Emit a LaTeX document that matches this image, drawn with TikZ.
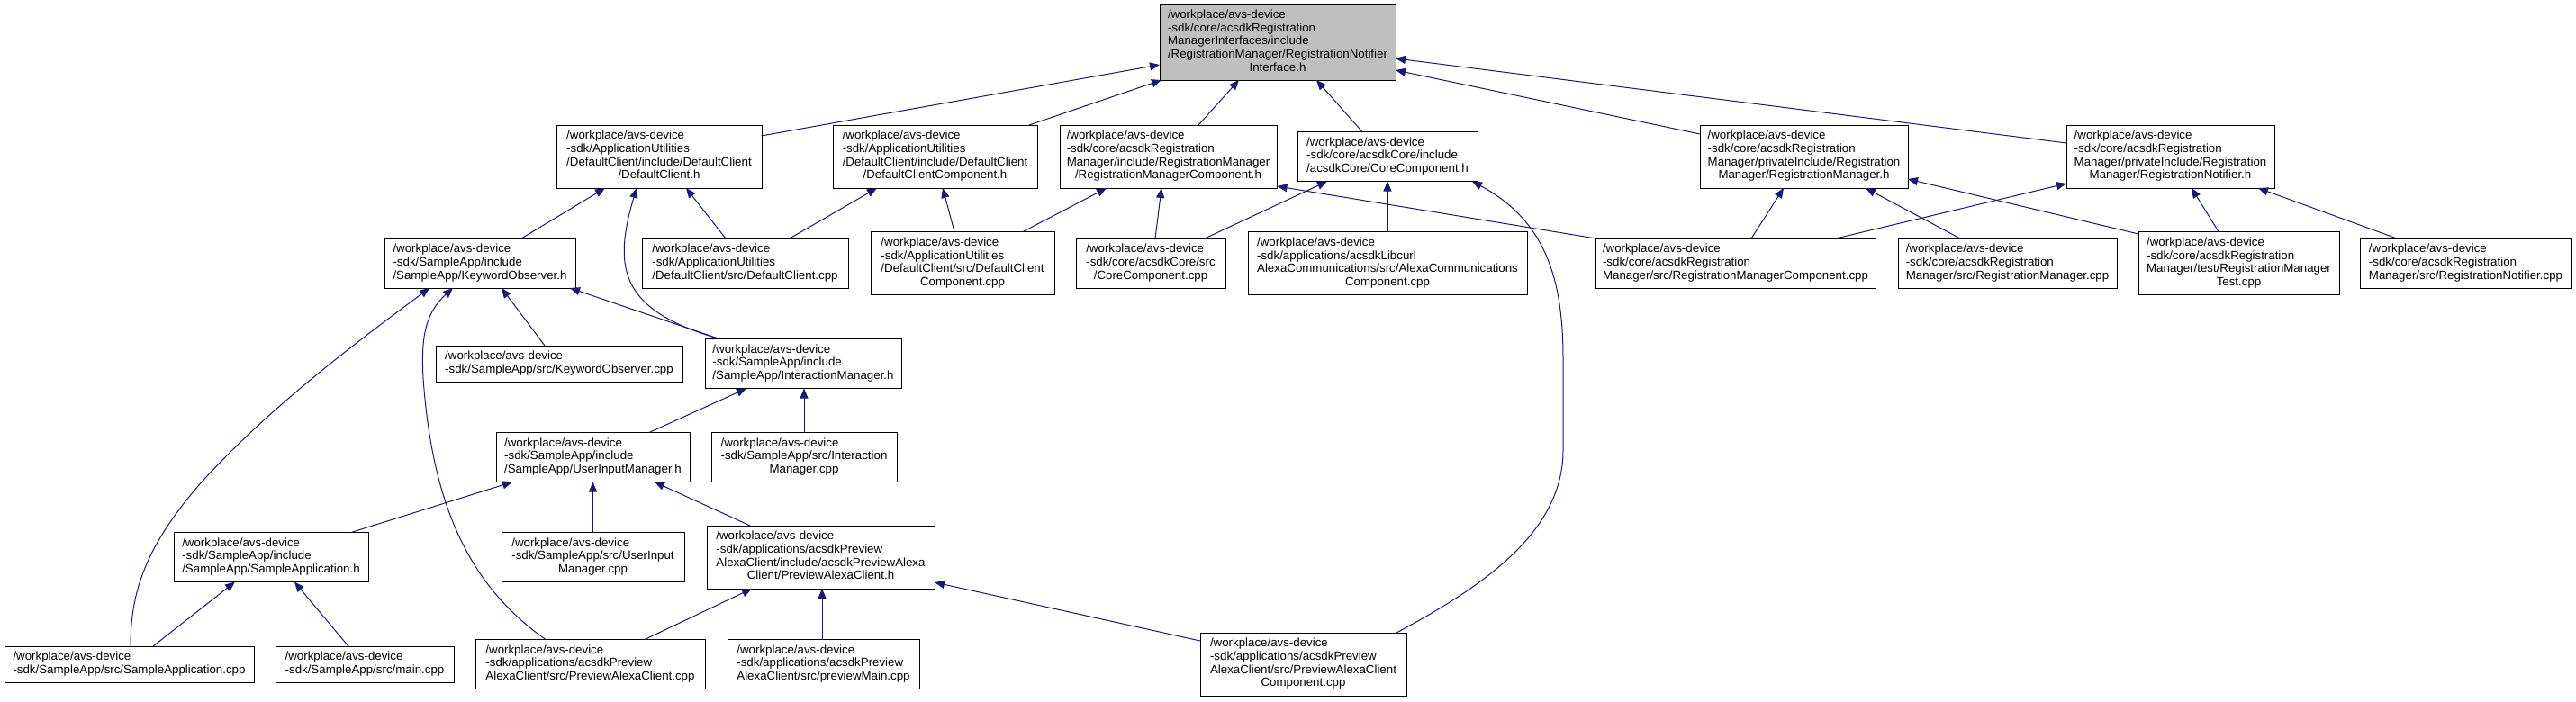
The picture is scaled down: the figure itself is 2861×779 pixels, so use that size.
\documentclass[tikz,border=0pt]{standalone}
\usepackage{fontspec}
\setmainfont{Liberation Sans}
\usetikzlibrary{arrows.meta,calc}
\definecolor{mblue}{HTML}{191970}
\definecolor{rootgray}{HTML}{BFBFBF}
\newcommand\dlab[2]{\begin{tabular}{@{}l@{}}#1\\\multicolumn{1}{@{}c@{}}{#2}\end{tabular}}
\tikzset{
  fbox/.style={draw=black, line width=1pt, fill=white, inner sep=0pt, font=\fontsize{13.3}{14.7}\selectfont},
  dep/.style={draw=mblue, line width=1pt, arrows={Triangle[length=11pt,width=9pt]-}},
}
\begin{document}
\begin{tikzpicture}[x=1pt,y=-1pt]
\useasboundingbox[fill=white] (0,0) rectangle (2861,779);
% root
\node[fbox, fill=rootgray, minimum width=262pt, minimum height=84pt] (N0) at (1419,47) {\dlab{/workplace/avs-device\\-sdk/core/acsdkRegistration\\ManagerInterfaces/include\\/RegistrationManager/RegistrationNotifier}{Interface.h}};
% row 1
\node[fbox, minimum width=228pt, minimum height=70pt] (N1) at (732,174) {\dlab{/workplace/avs-device\\-sdk/ApplicationUtilities\\/DefaultClient/include/DefaultClient}{/DefaultClient.h}};
\node[fbox, minimum width=227pt, minimum height=70pt] (N15) at (1038.5,174) {\dlab{/workplace/avs-device\\-sdk/ApplicationUtilities\\/DefaultClient/include/DefaultClient}{/DefaultClientComponent.h}};
\node[fbox, minimum width=241pt, minimum height=70pt] (N16) at (1297.5,174) {\dlab{/workplace/avs-device\\-sdk/core/acsdkRegistration\\Manager/include/RegistrationManager}{/RegistrationManagerComponent.h}};
\node[fbox, minimum width=200pt, minimum height=55pt] (N21) at (1541,174) {\dlab{/workplace/avs-device\\-sdk/core/acsdkCore/include}{/acsdkCore/CoreComponent.h}};
\node[fbox, minimum width=231pt, minimum height=70pt] (N22) at (2003.5,174) {\dlab{/workplace/avs-device\\-sdk/core/acsdkRegistration\\Manager/privateInclude/Registration}{Manager/RegistrationManager.h}};
\node[fbox, minimum width=231pt, minimum height=70pt] (N24) at (2410.5,174) {\dlab{/workplace/avs-device\\-sdk/core/acsdkRegistration\\Manager/privateInclude/Registration}{Manager/RegistrationNotifier.h}};
% row 2
\node[fbox, minimum width=212pt, minimum height=55pt] (N2) at (533,292.5) {\dlab{/workplace/avs-device\\-sdk/SampleApp/include}{/SampleApp/KeywordObserver.h}};
\node[fbox, minimum width=229pt, minimum height=55pt] (N17) at (827.5,292.5) {\dlab{/workplace/avs-device\\-sdk/ApplicationUtilities}{/DefaultClient/src/DefaultClient.cpp}};
\node[fbox, minimum width=204pt, minimum height=70pt] (N18) at (1069,292.5) {\dlab{/workplace/avs-device\\-sdk/ApplicationUtilities\\/DefaultClient/src/DefaultClient}{Component.cpp}};
\node[fbox, minimum width=166pt, minimum height=55pt] (N19) at (1278,292.5) {\dlab{/workplace/avs-device\\-sdk/core/acsdkCore/src}{/CoreComponent.cpp}};
\node[fbox, minimum width=310pt, minimum height=70pt] (N20) at (1541,292.5) {\dlab{/workplace/avs-device\\-sdk/applications/acsdkLibcurl\\AlexaCommunications/src/AlexaCommunications}{Component.cpp}};
\node[fbox, minimum width=311pt, minimum height=55pt] (N23) at (1927.5,292.5) {\dlab{/workplace/avs-device\\-sdk/core/acsdkRegistration}{Manager/src/RegistrationManagerComponent.cpp}};
\node[fbox, minimum width=243pt, minimum height=55pt] (N25) at (2229.5,292.5) {\dlab{/workplace/avs-device\\-sdk/core/acsdkRegistration}{Manager/src/RegistrationManager.cpp}};
\node[fbox, minimum width=223pt, minimum height=70pt] (N26) at (2486.5,292.5) {\dlab{/workplace/avs-device\\-sdk/core/acsdkRegistration\\Manager/test/RegistrationManager}{Test.cpp}};
\node[fbox, minimum width=235pt, minimum height=55pt] (N27) at (2738.5,292.5) {\dlab{/workplace/avs-device\\-sdk/core/acsdkRegistration}{Manager/src/RegistrationNotifier.cpp}};
% row 3
\node[fbox, minimum width=274pt, minimum height=40pt] (N3) at (621,404) {\dlab{/workplace/avs-device}{-sdk/SampleApp/src/KeywordObserver.cpp}};
\node[fbox, minimum width=218pt, minimum height=55pt] (N4) at (892,404) {\dlab{/workplace/avs-device\\-sdk/SampleApp/include}{/SampleApp/InteractionManager.h}};
% row 4
\node[fbox, minimum width=215pt, minimum height=55pt] (N5) at (658.5,508) {\dlab{/workplace/avs-device\\-sdk/SampleApp/include}{/SampleApp/UserInputManager.h}};
\node[fbox, minimum width=206pt, minimum height=55pt] (N6) at (893,508) {\dlab{/workplace/avs-device\\-sdk/SampleApp/src/Interaction}{Manager.cpp}};
% row 5
\node[fbox, minimum width=216pt, minimum height=55pt] (N7) at (301,619) {\dlab{/workplace/avs-device\\-sdk/SampleApp/include}{/SampleApp/SampleApplication.h}};
\node[fbox, minimum width=203pt, minimum height=55pt] (N8) at (658.5,619) {\dlab{/workplace/avs-device\\-sdk/SampleApp/src/UserInput}{Manager.cpp}};
\node[fbox, minimum width=253pt, minimum height=70pt] (N9) at (911.5,619) {\dlab{/workplace/avs-device\\-sdk/applications/acsdkPreview\\AlexaClient/include/acsdkPreviewAlexa}{Client/PreviewAlexaClient.h}};
% row 6
\node[fbox, minimum width=277pt, minimum height=40pt] (N10) at (143.5,738) {\dlab{/workplace/avs-device}{-sdk/SampleApp/src/SampleApplication.cpp}};
\node[fbox, minimum width=198pt, minimum height=40pt] (N11) at (405,738) {\dlab{/workplace/avs-device}{-sdk/SampleApp/src/main.cpp}};
\node[fbox, minimum width=255pt, minimum height=55pt] (N12) at (655.5,738) {\dlab{/workplace/avs-device\\-sdk/applications/acsdkPreview}{AlexaClient/src/PreviewAlexaClient.cpp}};
\node[fbox, minimum width=213pt, minimum height=55pt] (N13) at (914.5,738) {\dlab{/workplace/avs-device\\-sdk/applications/acsdkPreview}{AlexaClient/src/previewMain.cpp}};
\node[fbox, minimum width=229pt, minimum height=70pt] (N14) at (1447.5,738) {\dlab{/workplace/avs-device\\-sdk/applications/acsdkPreview\\AlexaClient/src/PreviewAlexaClient}{Component.cpp}};

% edges into root
\draw[dep] ($(N0)+(-131,25)$) -- ($(N1)+(113.5,-23)$);
\draw[dep] ($(N0)+(-129,42)$) -- ($(N15)+(104.5,-35)$);
\draw[dep] ($(N0)+(-43,42)$) -- ($(N16)+(33.5,-35)$);
\draw[dep] ($(N0)+(43,42)$) -- ($(N21)+(-28,-27.5)$);
\draw[dep] ($(N0)+(131,31)$) -- ($(N22)+(-115.5,-25)$);
\draw[dep] ($(N0)+(131,18)$) -- ($(N24)+(-115.5,-15)$);
% row1 <- row2
\draw[dep] ($(N1)+(-60,35)$) -- ($(N2)+(46,-27.5)$);
\draw[dep] ($(N1)+(-25,35)$) .. controls ($(N1)+(-52,126)$) and ($(N1)+(-42,171)$) .. ($(N4)+(-93,-27.5)$);
\draw[dep] ($(N1)+(30,35)$) -- ($(N17)+(-21.5,-27.5)$);
\draw[dep] ($(N15)+(-64.5,35)$) -- ($(N17)+(49.5,-27.5)$);
\draw[dep] ($(N15)+(8.5,35)$) -- ($(N18)+(-9,-35)$);
\draw[dep] ($(N16)+(-68.5,35)$) -- ($(N18)+(67,-35)$);
\draw[dep] ($(N16)+(-7.5,35)$) -- ($(N19)+(5,-27.5)$);
\draw[dep] ($(N16)+(121,33)$) -- ($(N23)+(-155,-27.5)$);
\draw[dep] ($(N21)+(-67,27.5)$) -- ($(N19)+(60,-27.5)$);
\draw[dep] ($(N21)+(0,27.5)$) -- ($(N20)+(0,-35)$);
\draw[dep] ($(N21)+(94,27.5)$) .. controls ($(N21)+(181,74)$) and ($(N21)+(195,146)$) .. ($(N21)+(195,226)$) -- ($(N21)+(195,326)$) .. controls ($(N21)+(195,416)$) and ($(N14)+(202.5,-88)$) .. ($(N14)+(103.5,-35)$);
\draw[dep] ($(N22)+(-22.5,35)$) -- ($(N23)+(17.5,-27.5)$);
\draw[dep] ($(N22)+(68.5,35)$) -- ($(N25)+(-52.5,-27.5)$);
\draw[dep] ($(N22)+(115.5,25)$) -- ($(N26)+(-111.5,-32.5)$);
\draw[dep] ($(N24)+(-115.5,30)$) -- ($(N23)+(111.5,-27.5)$);
\draw[dep] ($(N24)+(23.5,35)$) -- ($(N26)+(-22.5,-35)$);
\draw[dep] ($(N24)+(97.5,35)$) -- ($(N27)+(-76.5,-27.5)$);
% KeywordObserver.h
\draw[dep] ($(N2)+(24,27.5)$) -- ($(N3)+(-16,-20)$);
\draw[dep] ($(N2)+(100,27.5)$) -- ($(N4)+(-93,-27.5)$);
\draw[dep] ($(N2)+(-56,27.5)$) .. controls ($(N2)+(-123,77.5)$) and ($(N2)+(-233,157.5)$) .. ($(N7)+(-81,-79)$) .. controls ($(N10)+(16.5,-128)$) and ($(N10)+(1.5,-78)$) .. ($(N10)+(1.5,-20)$);
\draw[dep] ($(N2)+(-30,27.5)$) .. controls ($(N2)+(-63,57.5)$) and ($(N2)+(-65,87.5)$) .. ($(N2)+(-63,127.5)$) .. controls ($(N12)+(-175.5,-178)$) and ($(N12)+(-135.5,-88)$) .. ($(N12)+(-49.5,-27.5)$);
% InteractionManager.h
\draw[dep] ($(N4)+(-63,27.5)$) -- ($(N5)+(62.5,-27.5)$);
\draw[dep] ($(N4)+(1,27.5)$) -- ($(N6)+(0,-27.5)$);
% UserInputManager.h
\draw[dep] ($(N5)+(-89.5,27.5)$) -- ($(N7)+(89,-27.5)$);
\draw[dep] ($(N5)+(0,27.5)$) -- ($(N8)+(0,-27.5)$);
\draw[dep] ($(N5)+(68.5,27.5)$) -- ($(N9)+(-78.5,-35)$);
% SampleApplication.h
\draw[dep] ($(N7)+(-40,27.5)$) -- ($(N10)+(26.5,-20)$);
\draw[dep] ($(N7)+(26,27.5)$) -- ($(N11)+(-18,-20)$);
% PreviewAlexaClient.h
\draw[dep] ($(N9)+(-76.5,35)$) -- ($(N12)+(60.5,-27.5)$);
\draw[dep] ($(N9)+(1.5,35)$) -- ($(N13)+(-1.5,-27.5)$);
\draw[dep] ($(N9)+(126.5,28)$) -- ($(N14)+(-114.5,-26)$);
\end{tikzpicture}
\end{document}
